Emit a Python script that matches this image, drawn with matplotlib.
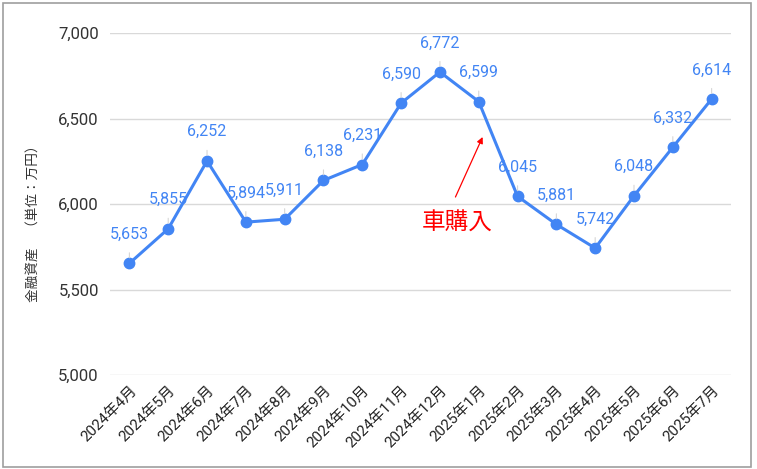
import matplotlib

matplotlib.use("Agg")

import matplotlib.pyplot as plt
from matplotlib.patches import Rectangle
from matplotlib.ticker import FuncFormatter, MultipleLocator

months = [
    "2024年4月", "2024年5月", "2024年6月", "2024年7月", "2024年8月",
    "2024年9月", "2024年10月", "2024年11月", "2024年12月", "2025年1月",
    "2025年2月", "2025年3月", "2025年4月", "2025年5月", "2025年6月",
    "2025年7月",
]
assets = [
    5653, 5855, 6252, 5894, 5911, 6138, 6231, 6590, 6772, 6599,
    6045, 5881, 5742, 6048, 6332, 6614,
]
note_text = "車購入"
note_head = (9.1, 6392)
note_tail = (8.4, 6041)
note_pos = (8.45, 5890)

BLUE = "#4285f4"
plt.rcParams["font.family"] = ["Roboto", "Noto Sans CJK JP", "DejaVu Sans"]

fig = plt.figure(figsize=(7.57, 4.69), dpi=100)
fig.patches.append(
    Rectangle((0.004, 0.004), 0.988, 0.99, transform=fig.transFigure,
              fill=False, edgecolor="#9e9e9e", linewidth=1.2)
)
ax = fig.add_axes([0.1453, 0.2004, 0.8204, 0.7292])

x = list(range(len(months)))
ax.plot(x, assets, color=BLUE, linewidth=2.2, marker="o", markersize=7.5,
        zorder=3, clip_on=False)

for xi, val in zip(x, assets):
    ax.annotate(
        f"{val:,}", xy=(xi, val), xytext=(0, 21), textcoords="offset points",
        ha="center", va="center", fontsize=11.5, color=BLUE,
        arrowprops=dict(arrowstyle="-", color="#d6d6d6", lw=0.8,
                        shrinkA=6, shrinkB=4),
        zorder=4,
    )

ax.annotate("", xy=note_head, xytext=note_tail,
            arrowprops=dict(arrowstyle="-|>", color="red", lw=0.9,
                            mutation_scale=9, shrinkA=0, shrinkB=0))
ax.text(*note_pos, note_text, color="red", fontsize=17, ha="center",
        va="center", family=["Noto Sans CJK JP"])

ax.set_xlim(-0.5, len(months) - 0.5)
ax.set_ylim(5000, 7000)
ax.yaxis.set_major_locator(MultipleLocator(500))
ax.yaxis.set_major_formatter(FuncFormatter(lambda v, _: f"{int(v):,}"))
ax.set_xticks(x)
ax.set_xticklabels(months, rotation=45, ha="right", rotation_mode="anchor",
                   fontsize=10.8, color="#222222")
ax.tick_params(axis="both", length=0, pad=6)
ax.tick_params(axis="y", labelsize=12, labelcolor="#333333", pad=8)
ax.grid(axis="y", color="#d9d9d9", linewidth=1)
ax.set_axisbelow(True)
for spine in ax.spines.values():
    spine.set_visible(False)

fig.text(0.044, 0.53, "金融資産　（単位：万円）", rotation=90, ha="center",
         va="center", fontsize=9.8, color="#333333",
         family=["Noto Sans CJK JP"])

fig.savefig("out.png", dpi=100)
